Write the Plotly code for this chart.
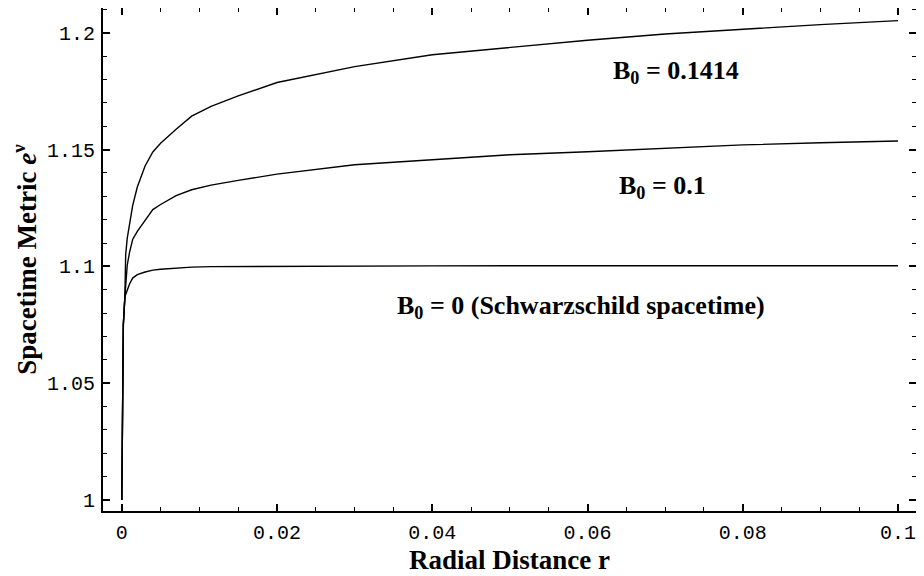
import plotly.graph_objects as go

# Radial distance r (shared by all three curves)
r = [0, 0.0001, 0.0002, 0.0004, 0.0005, 0.0007, 0.001, 0.0014, 0.002, 0.003,
     0.004, 0.005, 0.007, 0.009, 0.0115, 0.015, 0.02, 0.03, 0.04, 0.05,
     0.06, 0.07, 0.08, 0.09, 0.1]

# e^nu for B0 = 0.1414
metric_b01414 = [1, 1.029, 1.075, 1.087, 1.105, 1.112, 1.118, 1.126, 1.134, 1.143,
                 1.149, 1.1527, 1.1587, 1.1643, 1.1685, 1.173, 1.1787, 1.1855, 1.1906, 1.1938,
                 1.1968, 1.1995, 1.2016, 1.2035, 1.2052]
# e^nu for B0 = 0.1
metric_b01 = [1, 1.029, 1.075, 1.087, 1.092, 1.1005, 1.106, 1.1115, 1.115, 1.1195,
              1.1243, 1.1265, 1.1303, 1.1328, 1.1348, 1.1368, 1.1395, 1.1435, 1.1456, 1.1478,
              1.1491, 1.1507, 1.152, 1.1529, 1.1537]
# e^nu for B0 = 0 (Schwarzschild)
metric_b00 = [1, 1.029, 1.075, 1.087, 1.088, 1.0905, 1.0925, 1.095, 1.0965, 1.0976,
              1.0984, 1.0988, 1.0993, 1.0997, 1.0999, 1.0999, 1.0999, 1.1, 1.1002, 1.1003,
              1.1003, 1.1003, 1.1003, 1.1003, 1.1003]

x_tickvals = [0, 0.02, 0.04, 0.06, 0.08, 0.1]
x_ticktext = ["0", "0.02", "0.04", "0.06", "0.08", "0.1"]
y_tickvals = [1, 1.05, 1.1, 1.15, 1.2]
y_ticktext = ["1", "1.05", "1.1", "1.15", "1.2"]

labels = ["B<sub>0</sub> = 0.1414", "B<sub>0</sub> = 0.1", "B<sub>0</sub> = 0 (Schwarzschild spacetime)"]
label_x = [0.0714, 0.0697, 0.0592]
label_y = [1.1832, 1.134, 1.0826]

fig = go.Figure()
for ys in (metric_b01414, metric_b01, metric_b00):
    fig.add_trace(go.Scatter(x=r, y=ys, mode="lines",
                             line=dict(color="black", width=1.4),
                             showlegend=False, hoverinfo="skip"))

for t, lx, ly in zip(labels, label_x, label_y):
    fig.add_annotation(x=lx, y=ly, text="<b>" + t + "</b>", showarrow=False,
                       font=dict(family="Liberation Serif", size=26, color="black"))

tickfont = dict(family="Liberation Mono, Courier New, monospace", size=20, color="black")
titlefont = dict(family="Liberation Serif", size=27, color="black")

fig.update_xaxes(range=[-0.00242, 0.10232], showgrid=False, zeroline=False,
                 showline=True, linecolor="black", linewidth=2, mirror="ticks",
                 ticks="inside", ticklen=7, tickwidth=1.5, tickcolor="black",
                 tickvals=x_tickvals, ticktext=x_ticktext, tickfont=tickfont,
                 ticklabelstandoff=2, automargin=False,
                 minor=dict(ticks="inside", dtick=0.005, tick0=0, ticklen=4,
                            tickwidth=1.2, tickcolor="black"),
                 title=dict(text="<b>Radial Distance r</b>", font=titlefont, standoff=0))
fig.update_yaxes(range=[0.9953, 1.2106], showgrid=False, zeroline=False,
                 showline=True, linecolor="black", linewidth=2, mirror="ticks",
                 ticks="inside", ticklen=7, tickwidth=1.5, tickcolor="black",
                 tickvals=y_tickvals, ticktext=y_ticktext, tickfont=tickfont,
                 ticklabelstandoff=2, automargin=False,
                 minor=dict(ticks="inside", dtick=0.01, tick0=1, ticklen=4,
                            tickwidth=1.2, tickcolor="black"),
                 title=dict(text="<b>Spacetime Metric <i>e</i><sup>ν</sup></b>",
                            font=titlefont, standoff=4))

fig.update_layout(width=910, height=568,
                  margin=dict(l=95, r=2, t=0, b=65, autoexpand=False),
                  paper_bgcolor="white", plot_bgcolor="white")

fig.write_html("out.html")
